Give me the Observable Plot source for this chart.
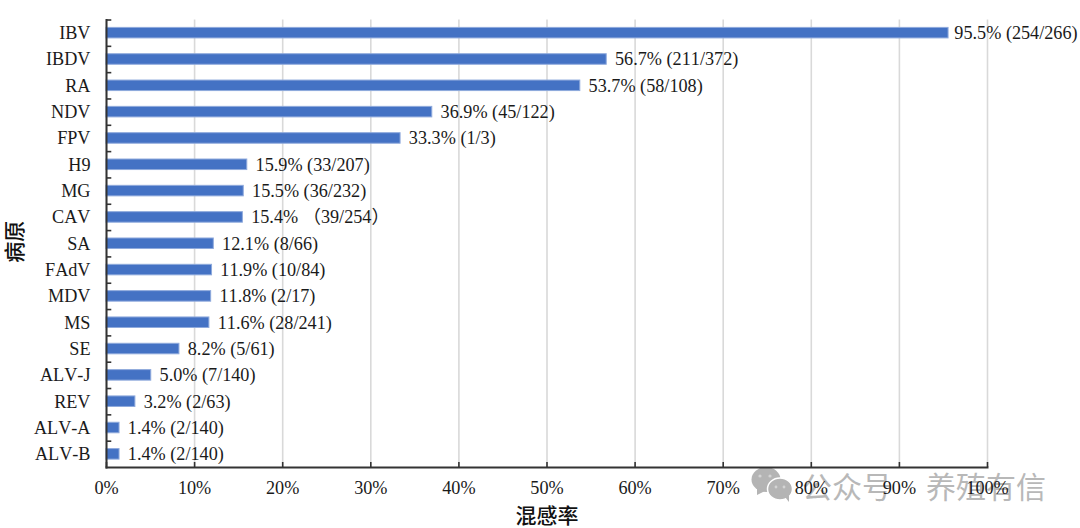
<!DOCTYPE html>
<html><head><meta charset="utf-8">
<script src="https://cdn.jsdelivr.net/npm/d3@7"></script>
<script src="https://cdn.jsdelivr.net/npm/@observablehq/plot@0.6"></script>
<style>
html,body{margin:0;padding:0;background:#fff;width:1080px;height:528px;overflow:hidden}
#wrap{position:relative;width:1080px;height:528px}
#wm{position:absolute;left:0;top:0;width:1080px;height:528px}
#wm span{position:absolute;top:466px;font:30px/38px "Noto Sans CJK SC";color:#b8b8b8;white-space:nowrap}
#chart{position:absolute;left:0;top:0}
svg{background:transparent!important}
svg text{font-kerning:none}
</style></head><body>
<div id="wrap">
<div id="wm">
<svg width="1080" height="528" style="position:absolute;left:0;top:0">
<g fill="#b4b4b4">
<ellipse cx="766" cy="479.5" rx="14.5" ry="12.5"/><path d="M757 487l0 8 8-4z"/>
</g>
<g fill="#b4b4b4" stroke="#fff" stroke-width="1.5">
<ellipse cx="780" cy="489" rx="12.5" ry="11"/>
</g>
<path d="M785 497l4 5 0-7z" fill="#b4b4b4"/>
<g fill="#d4d4d4"><circle cx="760" cy="476" r="1.6"/><circle cx="770" cy="476" r="1.6"/><circle cx="776" cy="487" r="1.4"/><circle cx="784" cy="487" r="1.4"/></g>
</svg>
<span style="left:802px">公众号</span><span style="left:926px">养殖有信</span>
</div>
<div id="chart"></div>
</div>
<script>
const pathogens=["IBV","IBDV","RA","NDV","FPV","H9","MG","CAV","SA","FAdV","MDV","MS","SE","ALV-J","REV","ALV-A","ALV-B"];
const rates=[95.5,56.7,53.7,36.9,33.3,15.9,15.5,15.4,12.1,11.9,11.8,11.6,8.2,5.0,3.2,1.4,1.4];
const counts=["(254/266)","(211/372)","(58/108)","(45/122)","(1/3)","(33/207)","(36/232)","（39/254）","(8/66)","(10/84)","(2/17)","(28/241)","(5/61)","(7/140)","(2/63)","(2/140)","(2/140)"];
const xTicks=[0,10,20,30,40,50,60,70,80,90,100];
const rows=pathogens.map((p,i)=>({p,r:rates[i],label:rates[i].toFixed(1)+"% "+counts[i]}));
const font='"Liberation Serif","Noto Sans CJK SC",serif';
const W=1080,H=528,mT=19.5,mB=61,mL=106,mR=93;
const step=(H-mT-mB)/pathogens.length;
const plot=Plot.plot({
  width:W,height:H,marginTop:mT,marginBottom:mB,marginLeft:mL,marginRight:mR,
  style:{fontFamily:font,fontSize:"18.2px",color:"#1a1a1a",background:"transparent",overflow:"visible"},
  x:{domain:[0,100],label:null},
  y:{domain:pathogens,paddingInner:0.6,paddingOuter:0.3,round:false,label:null},
  marks:[
    Plot.gridX(xTicks,{stroke:"#d9d9d9",strokeOpacity:1,strokeWidth:1.6}),
    Plot.barX(rows,{x:"r",y:"p",fill:"#4472C4",stroke:"#8faadc",strokeWidth:1,insetRight:-0.7}),
    Plot.text(rows.slice(0,1),{x:"r",y:"p",text:"label",textAnchor:"start",dx:6.5,fill:"#1a1a1a"}),
    Plot.text(rows.slice(1),{x:"r",y:"p",text:"label",textAnchor:"start",dx:9,fill:"#1a1a1a"}),
    Plot.axisX({ticks:xTicks,anchor:"bottom",tickSize:-5,tickPadding:19,stroke:"#333",strokeWidth:1.6,tickFormat:d=>d+"%",fill:"#1a1a1a"}),
    Plot.axisY({anchor:"left",tickSize:0,tickPadding:16,fill:"#1a1a1a"}),
    Plot.ruleY(pathogens,{y:d=>d,x1:0,x2:0.6,dy:-step/2,stroke:"#333",strokeWidth:1.6}),
    Plot.frame({anchor:"left",stroke:"#333",strokeWidth:2}),
    Plot.frame({anchor:"bottom",stroke:"#333",strokeWidth:2}),
    Plot.text(["混感率"],{frameAnchor:"bottom",dy:55,text:d=>d,fontSize:21,fill:"#111",fontWeight:500}),
    Plot.text(["病原"],{frameAnchor:"left",rotate:-90,text:d=>d,dx:-91,dy:19,fontSize:21,fill:"#111",fontWeight:500})
  ]
});
document.getElementById("chart").appendChild(plot);
</script>
</body></html>
